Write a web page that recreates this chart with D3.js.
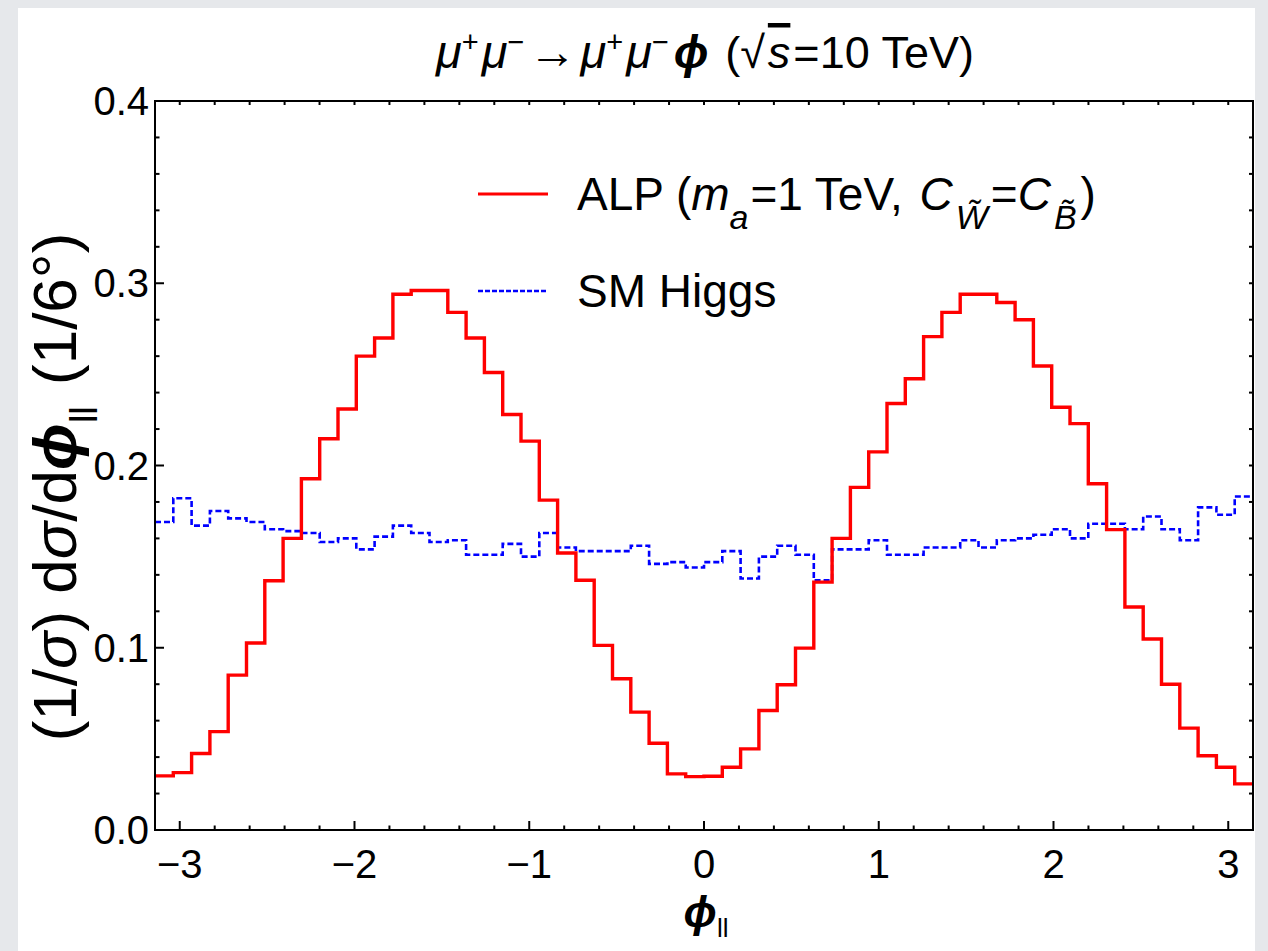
<!DOCTYPE html>
<html>
<head>
<meta charset="utf-8">
<script src="https://cdn.jsdelivr.net/npm/d3@7"></script>
<style>
  html, body { margin: 0; padding: 0; background: #e6e8eb; }
  svg { display: block; }
  text { font-family: "Liberation Sans", Arial, sans-serif; fill: #000; }
</style>
</head>
<body>
<svg id="chart" width="1268" height="951"></svg>
<script>
// ---- data ----
const nBins = 60;
const binEdges = d3.range(nBins + 1).map(i => -Math.PI + i * (2 * Math.PI / nBins));
const alpValues = [
  0.0297, 0.0315, 0.042, 0.054, 0.085, 0.1026, 0.1368, 0.160, 0.1927, 0.2147,
  0.231, 0.260, 0.270, 0.294, 0.296, 0.296, 0.284, 0.270, 0.251, 0.228,
  0.2134, 0.181, 0.152, 0.137, 0.1013, 0.083, 0.0647, 0.0476, 0.0308, 0.0293,
  0.0295, 0.0344, 0.0445, 0.0656, 0.0797, 0.0998, 0.136, 0.160, 0.188, 0.2075,
  0.234, 0.2476, 0.2707, 0.284, 0.294, 0.294, 0.2894, 0.280, 0.2546, 0.232,
  0.223, 0.190, 0.1648, 0.1224, 0.1048, 0.080, 0.0559, 0.0407, 0.0344, 0.0253
];
const smValues = [
  0.169, 0.182, 0.167, 0.175, 0.171, 0.169, 0.165, 0.164, 0.163, 0.158,
  0.160, 0.154, 0.161, 0.167, 0.163, 0.158, 0.159, 0.151, 0.151, 0.157,
  0.150, 0.163, 0.155, 0.153, 0.153, 0.153, 0.156, 0.146, 0.147, 0.144,
  0.147, 0.153, 0.138, 0.150, 0.156, 0.151, 0.137, 0.154, 0.154, 0.159,
  0.151, 0.151, 0.155, 0.155, 0.159, 0.155, 0.159, 0.160, 0.162, 0.165,
  0.160, 0.168, 0.168, 0.165, 0.172, 0.165, 0.159, 0.177, 0.173, 0.183
];
const xTicks = [-3, -2, -1, 0, 1, 2, 3];
const yTicks = [0.0, 0.1, 0.2, 0.3, 0.4];
const xTickLabels = ["\u22123", "\u22122", "\u22121", "0", "1", "2", "3"];
const yTickLabels = ["0.0", "0.1", "0.2", "0.3", "0.4"];

// ---- layout ----
const W = 1268, H = 951;
const plot = { left: 155, right: 1253, top: 101, bottom: 830 };
const svg = d3.select("#chart");

svg.append("rect").attr("x", 0).attr("y", 0).attr("width", W).attr("height", H).attr("fill", "#e6e8eb");
svg.append("rect").attr("x", 18).attr("y", 8).attr("width", 1237).attr("height", H - 8).attr("fill", "#ffffff");

const x = d3.scaleLinear().domain([-Math.PI, Math.PI]).range([plot.left, plot.right]);
const y = d3.scaleLinear().domain([0, 0.4]).range([plot.bottom, plot.top]);

// ---- ticks ----
const xMinor = d3.range(-3.2, 3.21, 0.2).map(v => +v.toFixed(2)).filter(v => v > -Math.PI && v < Math.PI && Math.abs(v - Math.round(v)) > 1e-6);
const yMinor = d3.range(0, 0.401, 0.02).map(v => +v.toFixed(3)).filter(v => Math.abs(v * 10 - Math.round(v * 10)) > 1e-6);

const tg = svg.append("g").attr("stroke", "#000").attr("stroke-width", 2);
xTicks.forEach(v => tg.append("line").attr("x1", x(v)).attr("x2", x(v)).attr("y1", plot.bottom).attr("y2", plot.bottom - 9));
xMinor.forEach(v => tg.append("line").attr("x1", x(v)).attr("x2", x(v)).attr("y1", plot.bottom).attr("y2", plot.bottom - 4.5));
xTicks.concat(xMinor).forEach(v => tg.append("line").attr("x1", x(v)).attr("x2", x(v)).attr("y1", plot.top).attr("y2", plot.top + 4));
yTicks.forEach(v => tg.append("line").attr("x1", plot.left).attr("x2", plot.left + 9).attr("y1", y(v)).attr("y2", y(v)));
yMinor.forEach(v => tg.append("line").attr("x1", plot.left).attr("x2", plot.left + 4.5).attr("y1", y(v)).attr("y2", y(v)));
yTicks.concat(yMinor).forEach(v => tg.append("line").attr("x1", plot.right).attr("x2", plot.right - 4).attr("y1", y(v)).attr("y2", y(v)));

// ---- histograms ----
function stepPoints(vals) {
  const pts = [];
  vals.forEach((v, i) => { pts.push([binEdges[i], v]); pts.push([binEdges[i + 1], v]); });
  return pts;
}
const line = d3.line().x(d => x(d[0])).y(d => y(d[1]));

svg.append("path").attr("d", line(stepPoints(smValues)))
  .attr("fill", "none").attr("stroke", "#0000ff").attr("stroke-width", 2.6)
  .attr("stroke-dasharray", "6,3");
svg.append("path").attr("d", line(stepPoints(alpValues)))
  .attr("fill", "none").attr("stroke", "#ff0000").attr("stroke-width", 3.4);

svg.append("rect").attr("x", plot.left).attr("y", plot.top)
  .attr("width", plot.right - plot.left).attr("height", plot.bottom - plot.top)
  .attr("fill", "none").attr("stroke", "#000").attr("stroke-width", 2);

// ---- tick labels ----
const fs = 40;
svg.append("g").selectAll("text").data(xTicks).join("text")
  .attr("x", d => x(d)).attr("y", plot.bottom + 48)
  .attr("text-anchor", "middle").attr("font-size", fs)
  .text((d, i) => xTickLabels[i]);
svg.append("g").selectAll("text").data(yTicks).join("text")
  .attr("x", plot.left - 6).attr("y", d => y(d) + 14)
  .attr("text-anchor", "end").attr("font-size", fs)
  .text((d, i) => yTickLabels[i]);

function add(t, s, opts) {
  const sp = t.append("tspan").text(s);
  if (opts) Object.entries(opts).forEach(([k, v]) => sp.attr(k, v));
  return sp;
}

// ---- title ----
const title = svg.append("text").attr("x", 705).attr("y", 68).attr("text-anchor", "middle").attr("font-size", 45);
const mu = { "font-style": "italic", "font-size": 47 };
const sup = { "baseline-shift": "super", "font-size": 29 };
add(title, "\u03bc", mu);
add(title, "+", sup);
add(title, "\u03bc", Object.assign({ dx: 3 }, mu));
add(title, "\u2212", sup);
add(title, "\u2192", { "font-size": 48, dx: 4 });
add(title, "\u03bc", Object.assign({ dx: 4 }, mu));
add(title, "+", sup);
add(title, "\u03bc", Object.assign({ dx: 3 }, mu));
add(title, "\u2212", sup);
add(title, "\u03d5", { "font-style": "italic", "font-weight": "bold", "font-size": 46, dx: 5 });
add(title, " (\u221a", { dx: 4 });
add(title, "s", { "font-style": "italic", "text-decoration": "overline", dx: 3 });
add(title, "=10 TeV)", { dx: 3 });

// ---- axis labels ----
const ylab = svg.append("text").attr("transform", "translate(76,487) rotate(-90)")
  .attr("text-anchor", "middle").attr("font-size", 62);
add(ylab, "(1/");
add(ylab, "\u03c3", { "font-style": "italic" });
add(ylab, ") d");
add(ylab, "\u03c3", { "font-style": "italic" });
add(ylab, "/d");
add(ylab, "\u03d5", { "font-style": "italic", "font-weight": "bold" });
add(ylab, "ll", { "baseline-shift": "sub", "font-size": 38 });
add(ylab, " (1/6\u00b0)", { dx: 4 });

const xlab = svg.append("text").attr("x", 706).attr("y", 927).attr("text-anchor", "middle").attr("font-size", 44);
add(xlab, "\u03d5", { "font-style": "italic", "font-weight": "bold" });
add(xlab, "ll", { "baseline-shift": "-10", "font-size": 26 });

// ---- legend ----
const leg = svg.append("g");
leg.append("line").attr("x1", 478).attr("x2", 548).attr("y1", 194).attr("y2", 194)
  .attr("stroke", "#ff0000").attr("stroke-width", 3);
leg.append("line").attr("x1", 478).attr("x2", 547).attr("y1", 291).attr("y2", 291)
  .attr("stroke", "#0000ff").attr("stroke-width", 2.6).attr("stroke-dasharray", "5,2");
const l1 = leg.append("text").attr("x", 577).attr("y", 210).attr("font-size", 46);
add(l1, "ALP (");
add(l1, "m", { "font-style": "italic" });
add(l1, "a", { "font-style": "italic", "baseline-shift": "sub", "font-size": 34 });
add(l1, "=1 TeV, ", { dx: 2 });
add(l1, "C", { "font-style": "italic", dx: 4 });
add(l1, "W\u0303", { "font-style": "italic", "baseline-shift": "sub", "font-size": 34, dx: 3 });
add(l1, "=", { dx: 3 });
add(l1, "C", { "font-style": "italic" });
add(l1, "B\u0303", { "font-style": "italic", "baseline-shift": "sub", "font-size": 34, dx: 3 });
add(l1, ")", { dx: 4 });
const l2 = leg.append("text").attr("x", 577).attr("y", 307).attr("font-size", 46);
add(l2, "SM Higgs");
</script>
</body>
</html>
